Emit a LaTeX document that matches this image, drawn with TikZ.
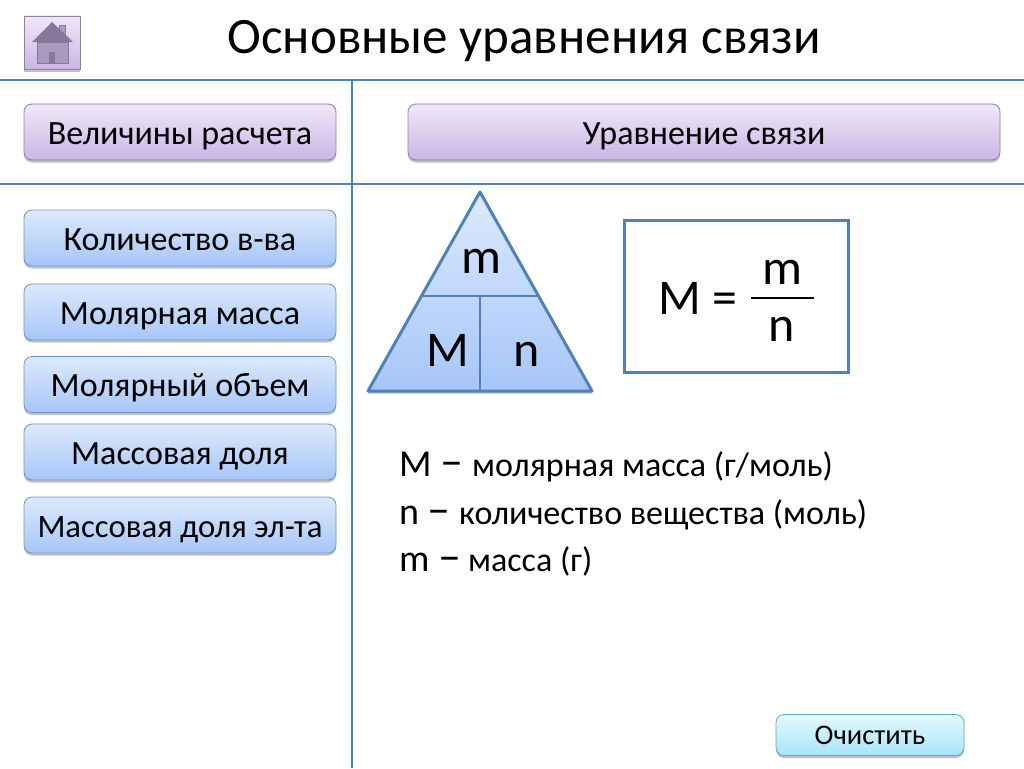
\documentclass[tikz,border=0pt]{standalone}
\usepackage{fontspec}
\setmainfont{Carlito}
\usepackage{tikz}
\usetikzlibrary{shadows}

\definecolor{linecol}{HTML}{4F81BD}
\definecolor{lilacedge}{HTML}{8E7FA8}
\definecolor{blueedge}{HTML}{6E93C4}
\definecolor{cyanedge}{HTML}{5FA8BE}
\definecolor{houseroof}{HTML}{85789A}
\definecolor{housewall}{HTML}{A99BC0}
\definecolor{lilactop}{HTML}{EFE8F8}
\definecolor{lilacbot}{HTML}{C9B6E6}
\definecolor{bluetop}{HTML}{DCE9FC}
\definecolor{bluebot}{HTML}{A6C6F9}
\definecolor{cyantop}{HTML}{E4F8FE}
\definecolor{cyanbot}{HTML}{A6E6FB}

\newcommand{\fsz}[1]{\fontsize{#1}{#1}\selectfont}
\newcommand{\legdash}{{\fsz{46}–}}

\tikzset{
    softshadow/.style={drop shadow={shadow xshift=0pt, shadow yshift=-2.5pt, opacity=0.35, fill=black!70}},
    btn/.style={draw, rounded corners=8pt, line width=0.8pt, minimum height=56pt,
        inner sep=0pt, font=\fsz{34}, text=black, text height=27pt, text depth=3pt, softshadow},
    headbtn/.style={btn, draw=lilacedge, top color=lilactop, bottom color=lilacbot},
    varbtn/.style={btn, draw=blueedge, top color=bluetop, bottom color=bluebot},
    seprule/.style={linecol, line width=2pt},
    bigtxt/.style={anchor=base west, inner sep=0pt, font=\fsz{38}, text=black},
    hugetxt/.style={anchor=base, inner sep=0pt, font=\fsz{50}, text=black},
    legtxt/.style={anchor=base west, inner sep=0pt, font=\fsz{34}, text=black}
}

\begin{document}
\begin{tikzpicture}[x=1pt, y=-1pt]
    \useasboundingbox (0,0) rectangle (1024,768);

    % Separadores
    \coordinate (hAL) at (0,80);
    \coordinate (hAR) at (1024,80);
    \coordinate (hBL) at (0,184);
    \coordinate (hBR) at (1024,184);
    \coordinate (vT) at (352,80);
    \coordinate (vB) at (352,768);
    \draw[seprule] (hAL) -- (hAR);
    \draw[seprule] (hBL) -- (hBR);
    \draw[seprule] (vT) -- (vB);

    % Titulo
    \node[font=\fsz{51}, anchor=base, inner sep=0pt, text=black] (title) at (524,54) {Основные уравнения связи};

    % Botao casa
    \filldraw[draw=lilacedge, line width=0.8pt, top color=lilactop, bottom color=lilacbot, softshadow]
        (24,16) rectangle (80,69);
    \fill[housewall, draw=houseroof, line width=0.5pt] (37,42) rectangle (68,63);
    \fill[housewall, draw=houseroof, line width=0.5pt] (59,25) rectangle (65,38);
    \fill[houseroof] (32,42) -- (52,22) -- (73,42) -- cycle;
    \fill[houseroof] (49,52) rectangle (55,63);

    % Cabecalhos
    \node[headbtn, minimum width=312pt] (hdrA) at (180,132) {Величины расчета};
    \node[headbtn, minimum width=592pt] (hdrB) at (704,132) {Уравнение связи};

    % Lista de grandezas
    \node[varbtn, minimum width=312pt] (varA) at (180,238) {Количество в-ва};
    \node[varbtn, minimum width=312pt] (varB) at (180,312) {Молярная масса};
    \node[varbtn, minimum width=312pt] (varC) at (180,384.5) {Молярный объем};
    \node[varbtn, minimum width=312pt] (varD) at (180,452) {Массовая доля};
    \node[varbtn, minimum width=312pt, font=\fsz{32.7}] (varE) at (180,525) {Массовая доля эл-та};

    % Botao limpar
    \node[btn, draw=cyanedge, minimum width=188pt, minimum height=41pt, font=\fsz{28.5},
        text height=20pt, text depth=2pt, top color=cyantop, bottom color=cyanbot] (clear) at (870,735) {Очистить};

    % Triangulo
    \draw[linecol, line width=3pt, line join=round, top color=bluetop, bottom color=bluebot, softshadow]
        (480,192) -- (592,391) -- (368,391) -- cycle;
    \coordinate (triL) at (423,296);
    \coordinate (triR) at (537,296);
    \coordinate (triM) at (480,296);
    \coordinate (triB) at (480,391);
    \draw[linecol, line width=2pt] (triL) -- (triR);
    \draw[linecol, line width=2pt] (triM) -- (triB);
    \node[hugetxt] (triTm) at (481,273) {m};
    \node[hugetxt] (triTM) at (448,366) {M};
    \node[hugetxt] (triTn) at (527,366) {n};

    % Formula
    \draw[linecol, line width=3pt] (624,220) rectangle (848,372);
    \node[hugetxt, anchor=base west] (fM) at (658,314) {M =};
    \node[hugetxt] (fm) at (782,284) {m};
    \node[hugetxt] (fn) at (782,341) {n};
    \coordinate (fracL) at (751,298);
    \coordinate (fracR) at (814,298);
    \draw[black, line width=2.5pt] (fracL) -- (fracR);

    % Legenda
    \node[bigtxt] (legA) at (399,476) {M \legdash};
    \node[legtxt] (legAt) at (472,476) {молярная масса (г/моль)};
    \node[bigtxt] (legB) at (399,524) {n \legdash};
    \node[legtxt] (legBt) at (459,524) {количество вещества (моль)};
    \node[bigtxt] (legC) at (399,571) {m \legdash};
    \node[legtxt] (legCt) at (468,571) {масса (г)};
\end{tikzpicture}
\end{document}
